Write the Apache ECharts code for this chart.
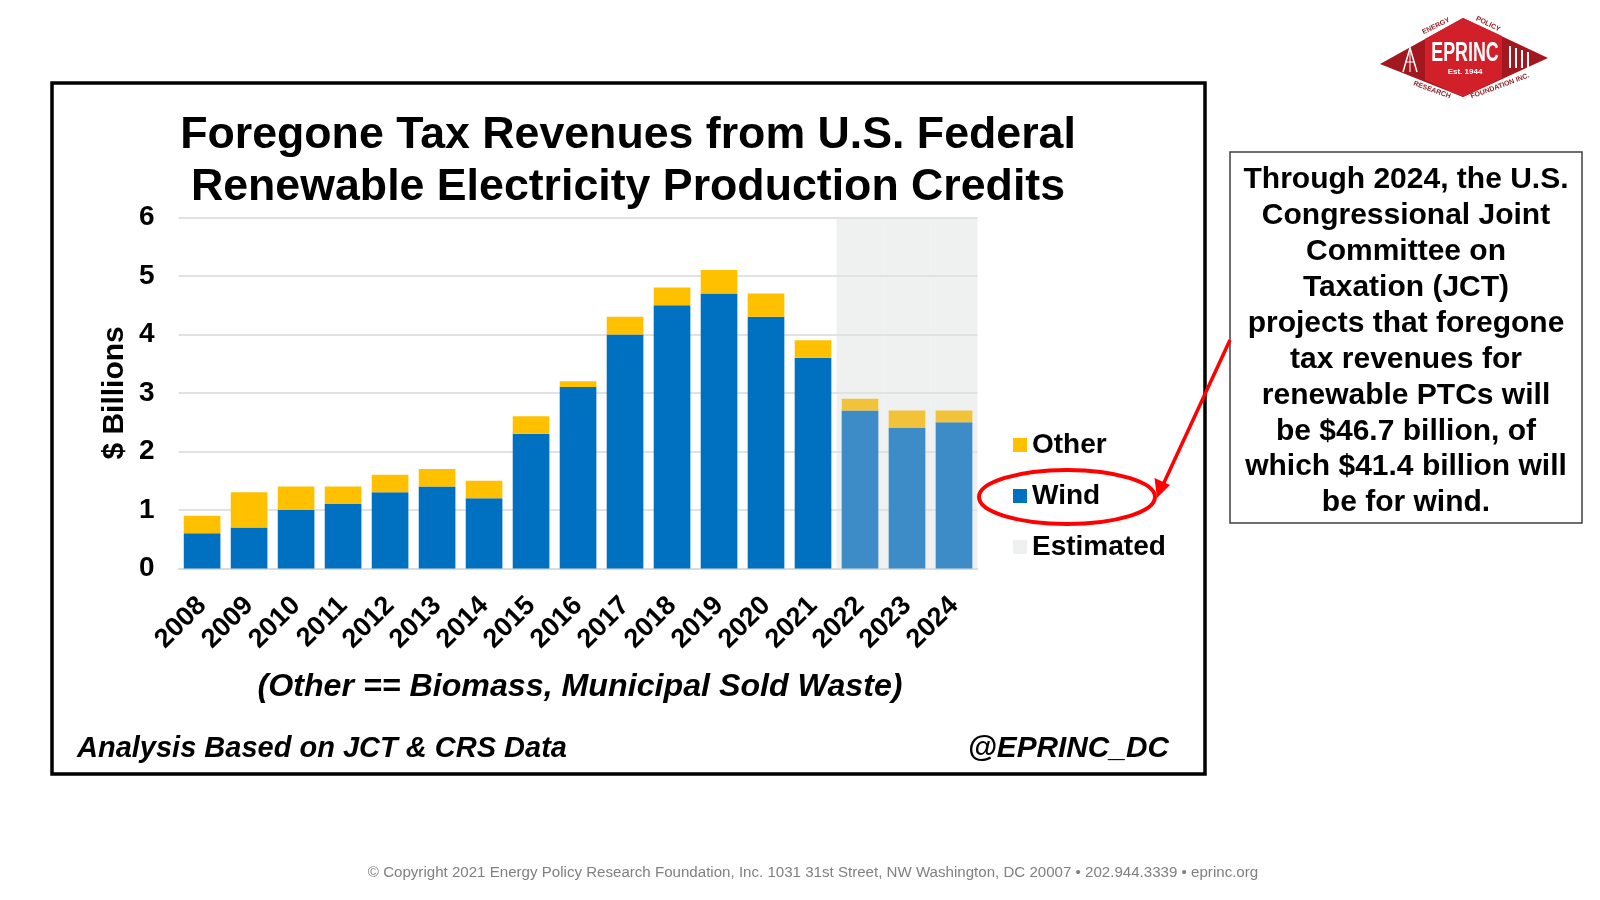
<!DOCTYPE html>
<html>
<head>
<meta charset="utf-8">
<script src="https://cdn.jsdelivr.net/npm/echarts@6/dist/echarts.min.js"></script>
<style>
html,body{margin:0;padding:0;background:#fff;}
#chart{width:1600px;height:900px;}
</style>
</head>
<body>
<div id="chart"></div>
<script>
// ---------- DATA ----------
const categories = ['2008','2009','2010','2011','2012','2013','2014','2015','2016','2017','2018','2019','2020','2021','2022','2023','2024'];
const windValues  = [0.6,0.7,1.0,1.1,1.3,1.4,1.2,2.3,3.1,4.0,4.5,4.7,4.3,3.6,2.7,2.4,2.5];
const otherValues = [0.3,0.6,0.4,0.3,0.3,0.3,0.3,0.3,0.1,0.3,0.3,0.4,0.4,0.3,0.2,0.3,0.2];
const estimatedYears = ['2022','2023','2024'];
const yMin = 0, yMax = 6, yInterval = 1;
const legendOrder = ['Other','Wind','Estimated'];

const titleLines = ['Foregone Tax Revenues from U.S. Federal', 'Renewable Electricity Production Credits'];
const noteText = '(Other == Biomass, Municipal Sold Waste)';
const sourceText = 'Analysis Based on JCT & CRS Data';
const handleText = '@EPRINC_DC';
const boxLines = ['Through 2024, the U.S.','Congressional Joint','Committee on','Taxation (JCT)','projects that foregone','tax revenues for','renewable PTCs will','be $46.7 billion, of','which $41.4 billion will','be for wind.'];
const footerText = '\u00A9 Copyright 2021 Energy Policy Research Foundation, Inc. 1031 31st Street, NW Washington, DC 20007 \u2022 202.944.3339 \u2022 eprinc.org';

// ---------- STYLE ----------
const FONT = '"Liberation Sans", Arial, Helvetica, sans-serif';
const WIND = '#0070C0', WIND_EST = '#3D8BC7';
const OTHER = '#FFC000', OTHER_EST = '#F2C33A';
const EST_BG = 'rgba(223,227,225,0.5)';

const isEst = c => estimatedYears.indexOf(c) >= 0;
const windData = windValues.map((v,i) => isEst(categories[i]) ? {value:v, itemStyle:{color:WIND_EST}} : v);
const otherData = otherValues.map((v,i) => isEst(categories[i]) ? {value:v, itemStyle:{color:OTHER_EST}} : v);
const estData = categories.map(c => isEst(c) ? yMax : null);

function txt(text, x, y, size, opts) {
  opts = opts || {};
  return {
    type: 'text', x: x, y: y, z: 10,
    scaleX: opts.scaleX || 1,
    rotation: opts.rotation || 0,
    style: {
      text: text,
      fill: opts.color || '#000',
      fontSize: size,
      fontWeight: opts.weight || 'bold',
      fontStyle: opts.style || 'normal',
      fontFamily: opts.family || FONT,
      align: opts.align || 'center',
      verticalAlign: 'middle'
    }
  };
}

const graphics = [];
// chart frame
graphics.push({type:'rect', z:0, shape:{x:52, y:83, width:1153, height:691}, style:{fill:'none', stroke:'#000', lineWidth:3.5}});
// title
graphics.push(txt(titleLines[0], 628, 136, 44.7));
graphics.push(txt(titleLines[1], 628, 188, 44.7));
// note & source
graphics.push(txt(noteText, 580, 687, 32.2, {style:'italic'}));
graphics.push(txt(sourceText, 77, 749, 29, {style:'italic', align:'left'}));
graphics.push(txt(handleText, 1169, 749, 29.8, {style:'italic', align:'right'}));
// text box
graphics.push({type:'rect', z:5, shape:{x:1230, y:152, width:352, height:371}, style:{fill:'#fff', stroke:'#404040', lineWidth:1.5}});
boxLines.forEach((l,i) => graphics.push(txt(l, 1406, 180 + i*35.9, 30)));
// footer
graphics.push(txt(footerText, 813, 873, 15.1, {weight:'normal', color:'#808080'}));
// red ellipse and arrow
graphics.push({type:'ellipse', z:20, shape:{cx:1067, cy:497, rx:88, ry:27}, style:{fill:'none', stroke:'#FF0000', lineWidth:4}});
graphics.push({type:'line', z:20, shape:{x1:1230, y1:340, x2:1162, y2:487}, style:{stroke:'#FF0000', lineWidth:3.5}});
graphics.push({type:'polygon', z:20, shape:{points:[[1157,498],[1154.5,478],[1170,485]]}, style:{fill:'#FF0000'}});
// logo
graphics.push({type:'polygon', z:5, shape:{points:[[1380,64],[1463,18],[1548,58],[1463,97]]}, style:{fill:'#A3181E'}});
graphics.push({type:'polygon', z:6, shape:{points:[[1425,39],[1463,18],[1502,36],[1502,78],[1463,97],[1425,80]]}, style:{fill:'#D2202A'}});
graphics.push({type:'polyline', z:7, shape:{points:[[1403,72],[1410,48],[1417,72]]}, style:{stroke:'#fff', fill:'none', lineWidth:1.5}});
graphics.push({type:'line', z:7, shape:{x1:1410, y1:48, x2:1410, y2:72}, style:{stroke:'#fff', lineWidth:1}});
graphics.push({type:'line', z:7, shape:{x1:1405, y1:62, x2:1415, y2:62}, style:{stroke:'#fff', lineWidth:1}});
[1510,1516,1522,1528].forEach((x,i) => graphics.push({type:'line', z:7, shape:{x1:x, y1:46+i*2, x2:x, y2:68}, style:{stroke:'#fff', lineWidth:2}}));
graphics.push(txt('EPRINC', 1465, 54, 27, {color:'#fff', scaleX:0.66}));
graphics.push(txt('Est. 1944', 1465, 72, 8, {color:'#fff'}));
graphics.push(txt('ENERGY', 1436, 26, 7, {color:'#8A1A1E', rotation:0.45}));
graphics.push(txt('POLICY', 1488, 24, 7, {color:'#8A1A1E', rotation:-0.45}));
graphics.push(txt('RESEARCH', 1432, 90, 7, {color:'#8A1A1E', rotation:-0.35}));
graphics.push(txt('FOUNDATION INC.', 1500, 86, 7, {color:'#8A1A1E', rotation:0.35}));

const option = {
  animation: false,
  backgroundColor: '#fff',
  textStyle: {fontFamily: FONT},
  grid: {left: 178.6, right: 622.5, top: 217.4, bottom: 331.6, containLabel: false},
  legend: {
    orient: 'vertical', left: 1008, top: 425,
    data: legendOrder, icon: 'rect',
    itemWidth: 14, itemHeight: 14, itemGap: 21,
    textStyle: {fontSize: 28, fontWeight: 'bold', color: '#000', lineHeight: 30, fontFamily: FONT}
  },
  xAxis: [{
    type: 'category', data: categories,
    axisLine: {lineStyle: {color: '#D9D9D9', width: 1.5}},
    axisTick: {show: false},
    axisLabel: {rotate: 45, interval: 0, fontSize: 27, fontWeight: 'bold', color: '#000', margin: 33, fontFamily: FONT}
  }, {
    type: 'category', data: categories, show: false
  }],
  yAxis: {
    type: 'value', min: yMin, max: yMax, interval: yInterval,
    axisLine: {show: false}, axisTick: {show: false},
    axisLabel: {fontSize: 28, fontWeight: 'bold', color: '#000', margin: 24, fontFamily: FONT},
    splitLine: {lineStyle: {color: '#D9D9D9', width: 1.5}},
    name: '$ Billions', nameLocation: 'middle', nameGap: 49, nameRotate: 90,
    nameTextStyle: {fontSize: 30, fontWeight: 'bold', color: '#000', fontFamily: FONT}
  },
  series: [{
    name: 'Estimated', type: 'bar', xAxisIndex: 1, barWidth: '100%',
    data: estData, itemStyle: {color: EST_BG}, silent: true, z: 1
  }, {
    name: 'Wind', type: 'bar', stack: 'total', barCategoryGap: '22%',
    data: windData, itemStyle: {color: WIND}, z: 3
  }, {
    name: 'Other', type: 'bar', stack: 'total', barCategoryGap: '22%',
    data: otherData, itemStyle: {color: OTHER}, z: 3
  }],
  graphic: graphics
};

const chart = echarts.init(document.getElementById('chart'), null, {renderer: 'canvas'});
chart.setOption(option);
</script>
</body>
</html>
